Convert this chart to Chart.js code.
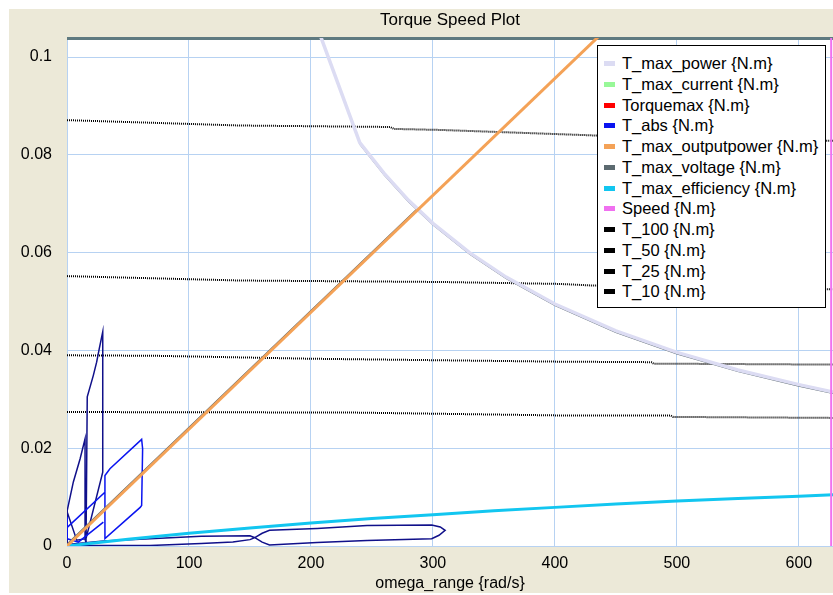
<!DOCTYPE html>
<html>
<head>
<meta charset="utf-8">
<title>Torque Speed Plot</title>
<script src="https://cdn.jsdelivr.net/npm/chart.js@4.4.0/dist/chart.umd.min.js"></script>
<style>
    html, body { margin: 0; padding: 0; background: #fff; }
    #panel {
        position: absolute; left: 9px; top: 9px;
        width: 824px; height: 584px;
        background: #ece9d8;
    }
    #legendBox {
        position: absolute; left: 597px; top: 45px;
        width: 229px; height: 263px;
        box-sizing: border-box;
        border: 1px solid #000;
        background: #fff;
        padding-top: 7px;
        font-family: 'Liberation Sans', Arial, sans-serif;
        font-size: 16.5px;
        color: #000;
    }
    .legend-row { position: relative; height: 20.76px; line-height: 20.76px; white-space: nowrap; }
    .legend-row span.sw { position: absolute; left: 6px; top: 8px; width: 11px; height: 5px; }
    .legend-row span.tx { position: absolute; left: 24px; top: 0; }
</style>
</head>
<body>
<div id="panel"><canvas id="torqueChart" width="824" height="584"></canvas></div>
<div id="legendBox"></div>

<script>
// ===================================
// Torque Speed Plot
// ===================================

// axis ticks
const xTicks = [0, 100, 200, 300, 400, 500, 600];
const yTicks = [0, 0.02, 0.04, 0.06, 0.08, 0.1];
const X_MAX = 628;
const Y_MAX = 0.1039;

// T_max_power (hyperbola)
const powerOmega  = [200, 209, 240, 260, 280, 300, 330, 360, 400, 450, 500, 550, 600, 628];
const powerTorque = [0.1096, 0.1035, 0.0825, 0.0762, 0.0707, 0.0660, 0.0600, 0.0550, 0.0495, 0.0440, 0.0396, 0.0360, 0.0330, 0.0315];

// T_max_voltage (thin dark line along the orange line, then along the hyperbola)
const voltOmega  = [0, 288, null, 240, 260, 280, 300, 330, 360, 400, 450, 500, 550, 600, 628];
const voltTorque = [0.0004, 0.0692, null, 0.0822, 0.0759, 0.0704, 0.0657, 0.0597, 0.0547, 0.0492, 0.0437, 0.0393, 0.0357, 0.0327, 0.0312];

// T_max_outputpower (straight line)
const outOmega  = [0, 440];
const outTorque = [0, 0.1052];

// T_max_efficiency
const effOmega  = [0, 50, 100, 150, 200, 250, 300, 350, 400, 450, 500, 550, 600, 628];
const effTorque = [0, 0.0014, 0.0026, 0.0037, 0.0047, 0.0056, 0.0064, 0.0072, 0.0079, 0.0086, 0.0092, 0.0097, 0.0102, 0.0105];

// Speed (vertical marker)
const speedOmega  = [626.5, 626.5];
const speedTorque = [0, 0.1039];

// T_abs (blue loops near the origin)
const absOmega  = [0.2, 31.1, 31.1, 60, 61.2, 62, 61.2, 35.2, 31.1, 31.1, null,
                   0.2, 0.2, 9.3, 29.8];
const absTorque = [0.0038, 0.0110, 0.0015, 0.0079, 0.0083, 0.0199, 0.0218, 0.0158, 0.0144, 0.0110, null,
                   0.0060, 0.0015, 0.0008, 0.0049];

// dark navy trajectory (spikes and the figure eight along the bottom)
const navyOmega  = [0.2, 0.2, 5.2, 10.7, 14.8, 14.8, 15.6, 16.6, 21.6, 24.3, 26.5, 29.3, 29.3, 15.6, 8, 0.2, null,
                    0, 68, 110, 136, 150, 154, 160, 166, 205, 246, 299, 306, 310, 305, 299, 246, 205, 166, 160, 154, 150, 110, 68, 30, 0];
const navyTorque = [0.0005, 0.0073, 0.0131, 0.0178, 0.0219, 0.0015, 0.0005, 0.0305, 0.0349, 0.0376, 0.0404, 0.0438, 0.0151, 0.0015, 0.0012, 0.0069, null,
                    0.0001, 0.0001, 0.0005, 0.0008, 0.0013, 0.0017, 0.0026, 0.0032, 0.0036, 0.0042, 0.0043, 0.0039, 0.0032, 0.0022, 0.0015, 0.0011, 0.0007, 0.0002, 0.0008, 0.0017, 0.0021, 0.0020, 0.0015, 0.0010, 0.0003];

// constant-efficiency contours (dotted)
const t100Omega  = [0, 142, 265, 268, 306, 429, 520, 628];
const t100Torque = [0.0871, 0.0860, 0.0857, 0.0853, 0.0851, 0.0840, 0.0831, 0.0829];
const t50Omega   = [0, 142, 306, 404, 429, 520, 628];
const t50Torque  = [0.0552, 0.0543, 0.0540, 0.0536, 0.0533, 0.0530, 0.0525];
const t25Omega   = [0, 73, 200, 404, 479, 481, 628];
const t25Torque  = [0.0390, 0.0389, 0.0383, 0.0377, 0.0376, 0.0373, 0.0371];
const t10Omega   = [0, 232, 404, 495, 497, 628];
const t10Torque  = [0.0274, 0.0273, 0.0267, 0.0267, 0.0264, 0.0262];

// build {x, y} points
function pts(xs, ys) {
    return xs.map((x, i) => ({ x: x, y: ys[i] }));
}

const GRID_COLOR = '#b7d2f2';

// white plot area and the dark strip along its top edge
const plotAreaPlugin = {
    id: 'plotArea',
    beforeDraw(chart) {
        const a = chart.chartArea, ctx = chart.ctx;
        ctx.save();
        ctx.fillStyle = '#ffffff';
        ctx.fillRect(a.left, a.top, a.right - a.left, a.bottom - a.top);
        ctx.restore();
    },
    beforeDatasetsDraw(chart) {
        const a = chart.chartArea, ctx = chart.ctx;
        ctx.save();
        ctx.fillStyle = '#5f7a80';
        ctx.fillRect(a.left, a.top - 1, a.right - a.left, 3);
        ctx.restore();
    }
};

// title centred over the plot area
const areaTitlePlugin = {
    id: 'areaTitle',
    afterDraw(chart) {
        const a = chart.chartArea, ctx = chart.ctx;
        ctx.save();
        ctx.font = '17px "Liberation Sans", Arial, sans-serif';
        ctx.fillStyle = '#000';
        ctx.textAlign = 'center';
        ctx.textBaseline = 'middle';
        ctx.fillText('Torque Speed Plot', (a.left + a.right) / 2, 11);
        ctx.restore();
    }
};

Chart.defaults.font.family = '"Liberation Sans", Arial, sans-serif';
Chart.defaults.color = '#000';

const lineDefaults = { pointRadius: 0, pointHoverRadius: 0, fill: false, tension: 0, spanGaps: false };

const datasets = [
    { label: 'T_max_power {N.m}', data: pts(powerOmega, powerTorque), borderColor: '#dcdcf3', borderWidth: 3.5, order: 2 },
    { label: 'T_max_current {N.m}', data: [], borderColor: '#98f898', borderWidth: 2, order: 11 },
    { label: 'Torquemax {N.m}', data: [], borderColor: '#ff0000', borderWidth: 2, order: 12 },
    { label: 'T_abs {N.m}', data: pts(absOmega, absTorque), borderColor: '#0a14f0', borderWidth: 1.5, order: 5 },
    { label: 'T_max_outputpower {N.m}', data: pts(outOmega, outTorque), borderColor: '#f4a257', borderWidth: 3, order: 1 },
    { label: 'T_max_voltage {N.m}', data: pts(voltOmega, voltTorque), borderColor: '#5c6a70', borderWidth: 1.2, order: 3 },
    { label: 'T_max_efficiency {N.m}', data: pts(effOmega, effTorque), borderColor: '#12c6f0', borderWidth: 3, order: 4 },
    { label: 'Speed {N.m}', data: pts(speedOmega, speedTorque), borderColor: '#f070f0', borderWidth: 2, order: 0 },
    { label: 'T_100 {N.m}', data: pts(t100Omega, t100Torque), borderColor: '#000', borderWidth: 2, borderDash: [1, 1], order: 7 },
    { label: 'T_50 {N.m}', data: pts(t50Omega, t50Torque), borderColor: '#000', borderWidth: 2, borderDash: [1, 1], order: 8 },
    { label: 'T_25 {N.m}', data: pts(t25Omega, t25Torque), borderColor: '#000', borderWidth: 2, borderDash: [1, 1], order: 9 },
    { label: 'T_10 {N.m}', data: pts(t10Omega, t10Torque), borderColor: '#000', borderWidth: 2, borderDash: [1, 1], order: 10 },
    { label: 'T_abs path', data: pts(navyOmega, navyTorque), borderColor: '#10108a', borderWidth: 1.5, order: 6, hideInLegend: true }
].map(d => Object.assign({}, lineDefaults, d));

const chart = new Chart(document.getElementById('torqueChart'), {
    type: 'line',
    data: { datasets: datasets },
    options: {
        responsive: false,
        animation: false,
        layout: { padding: { top: 29, left: 0, right: 0, bottom: 0 } },
        plugins: {
            legend: { display: false },
            title: { display: false },
            tooltip: { enabled: false }
        },
        scales: {
            x: {
                type: 'linear',
                min: 0,
                max: X_MAX,
                afterBuildTicks: s => { s.ticks = xTicks.map(v => ({ value: v })); },
                afterFit: s => { s.height = 47; },
                border: { display: false },
                grid: { color: GRID_COLOR, lineWidth: 1, drawTicks: false },
                ticks: {
                    padding: 8,
                    autoSkip: false,
                    maxRotation: 0,
                    font: { size: 16 },
                    callback: v => String(v)
                },
                title: {
                    display: true,
                    text: 'omega_range {rad/s}',
                    font: { size: 16 },
                    padding: { top: 0, bottom: 0 }
                }
            },
            y: {
                type: 'linear',
                min: 0,
                max: Y_MAX,
                afterBuildTicks: s => { s.ticks = yTicks.map(v => ({ value: v })); },
                afterFit: s => { s.width = 58; },
                border: { display: false },
                grid: { color: GRID_COLOR, lineWidth: 1, drawTicks: false },
                ticks: {
                    padding: 15,
                    font: { size: 16 },
                    callback: v => String(v)
                }
            }
        }
    },
    plugins: [plotAreaPlugin, areaTitlePlugin]
});

// legend box built from the datasets
const legendBox = document.getElementById('legendBox');
chart.data.datasets.filter(d => !d.hideInLegend).forEach(d => {
    const row = document.createElement('div');
    row.className = 'legend-row';
    const sw = document.createElement('span');
    sw.className = 'sw';
    sw.style.background = d.borderColor;
    const tx = document.createElement('span');
    tx.className = 'tx';
    tx.textContent = d.label;
    row.appendChild(sw);
    row.appendChild(tx);
    legendBox.appendChild(row);
});
</script>
</body>
</html>
